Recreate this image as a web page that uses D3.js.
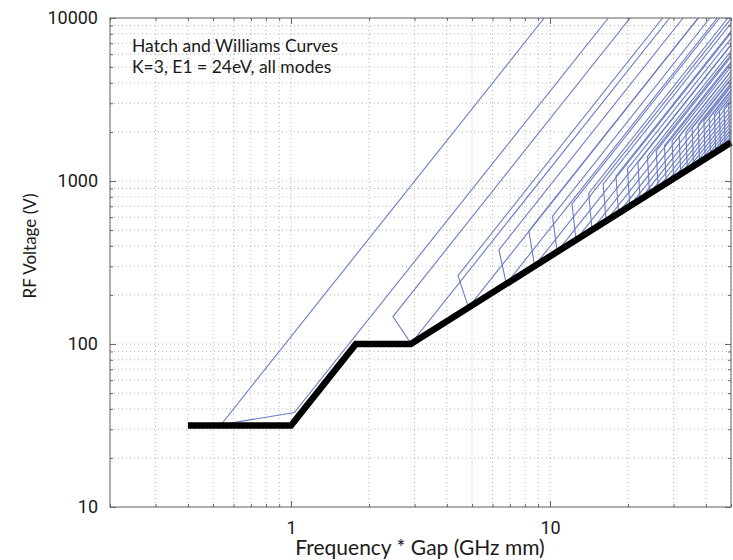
<!DOCTYPE html>
<html>
<head>
<meta charset="utf-8">
<script src="https://cdn.jsdelivr.net/npm/d3@7"></script>
<style>
  body { margin: 0; background: #fff; }
  .tick text { font-family: Roboto, "Liberation Sans", Arial, sans-serif; font-size: 18px; fill: #1a1a1a; }
  .lbl { font-family: Lato, "Open Sans", sans-serif; fill: #1a1a1a; }
</style>
</head>
<body>
<svg id="chart" width="733" height="560"></svg>
<script>
// Hatch and Williams multipactor curves, K=3, E1=24eV
// one entry per mode (n = 1..26)
const upperTopFd = [9.50, 20.39, 27.22, 32.66, 37.31, 41.45, 45.20, 48.67, 51.91, 54.95, 57.84, 60.59, 63.21,
                    65.74, 68.17, 70.52, 72.79, 74.99, 77.13, 79.21, 81.24, 83.22, 85.15, 87.04, 88.89, 90.71];
const cornerFd = [0.537, 2.475, 4.413, 6.350, 8.288, 10.226, 12.164, 14.101, 16.039, 17.977, 19.914, 21.852, 23.790,
                  25.728, 27.665, 29.603, 31.541, 33.479, 35.416, 37.354, 39.292, 41.229, 43.167, 45.105, 47.043, 48.980];
const cornerV = [32.0, 147.3, 262.7, 378.1, 493.4, 608.8, 724.1, 839.5, 954.9, 1070.2, 1185.6, 1300.9, 1416.3,
                 1531.7, 1647.0, 1762.4, 1877.7, 1993.1, 2108.4, 2223.8, 2339.2, 2454.5, 2569.9, 2685.2, 2800.6, 2916.0];
const footFd = [1.03, 2.907, 4.844, 6.782, 8.720, 10.658, 12.596, 14.533, 16.471, 18.408, 20.346, 22.284, 24.222,
                26.159, 28.097, 30.035, 31.973, 33.910, 35.848, 37.786, 39.724, 41.661, 43.599, 45.537, 47.475, 49.412];
const footV = [38.0, 100.6, 167.6, 234.6, 301.7, 368.7, 435.8, 502.8, 569.9, 636.9, 703.9, 771.0, 838.0,
               905.1, 972.1, 1039.1, 1106.2, 1173.2, 1240.3, 1307.3, 1374.4, 1441.4, 1508.4, 1575.5, 1642.5, 1709.6];
const lowerTopFd = [16.8, 28.98, 37.42, 44.27, 50.20, 55.50, 60.33, 64.81, 68.99, 72.94, 76.68, 80.25, 83.67,
                    86.95, 90.11, 93.17, 96.13, 99.00, 101.79, 104.50, 107.15, 109.73, 112.25, 114.72, 117.14, 119.50];
const topV = 10000;

// thick black threshold line
const thresholdFd = [0.4, 1, 1.78, 2.9, 50];
const thresholdV = [31.6, 31.6, 100, 100, 1725];

const xTickValues = [1, 10];
const yTickValues = [10, 100, 1000, 10000];

let svg = d3.select("#chart");
let pLeft = 110, pRight = 731, pTop = 18, pBottom = 507;

let x = d3.scaleLog().domain([0.2, 50]).range([pLeft, pRight]);
let y = d3.scaleLog().domain([10, 10000]).range([pBottom, pTop]);

svg.append("defs").append("clipPath").attr("id", "plotclip")
  .append("rect").attr("x", pLeft).attr("y", pTop).attr("width", pRight - pLeft).attr("height", pBottom - pTop);

// dotted grid on every decade step
let grid = svg.append("g").attr("stroke", "#a0a0a0").attr("stroke-width", 0.8).attr("stroke-dasharray", "1,3");
grid.selectAll(".gx").data(x.ticks()).join("line").attr("class", "gx")
  .attr("x1", d => x(d)).attr("x2", d => x(d)).attr("y1", pTop).attr("y2", pBottom);
grid.selectAll(".gy").data(y.ticks()).join("line").attr("class", "gy")
  .attr("x1", pLeft).attr("x2", pRight).attr("y1", d => y(d)).attr("y2", d => y(d));

// mode curves
let line = d3.line().x(d => x(d[0])).y(d => y(d[1]));
let modes = cornerFd.map((c, i) => [
  [upperTopFd[i], topV], [c, cornerV[i]], [footFd[i], footV[i]], [lowerTopFd[i], topV]
]);
svg.append("g").attr("clip-path", "url(#plotclip)")
  .selectAll("path").data(modes).join("path")
  .attr("d", line)
  .attr("fill", "none").attr("stroke", "#6b7cc6").attr("stroke-width", 1.1);

svg.append("path")
  .datum(thresholdFd.map((f, i) => [f, thresholdV[i]]))
  .attr("d", line)
  .attr("fill", "none").attr("stroke", "#000").attr("stroke-width", 6.5)
  .attr("stroke-linejoin", "miter");

// axes box with inward ticks
let axColor = "#666";
function styleAxis(g) {
  g.select(".domain").remove();
  g.selectAll(".tick line").attr("stroke", axColor);
}
svg.append("g").attr("transform", `translate(0,${pBottom})`)
  .call(d3.axisBottom(x).tickValues(xTickValues).tickFormat(d3.format("d")).tickSizeInner(-6).tickPadding(14))
  .call(styleAxis);
svg.append("g").attr("transform", `translate(0,${pBottom})`)
  .call(d3.axisBottom(x).tickValues(x.ticks()).tickFormat("").tickSizeInner(-3)).call(styleAxis);
svg.append("g").attr("transform", `translate(0,${pTop})`)
  .call(d3.axisTop(x).tickValues(x.ticks()).tickFormat("").tickSizeInner(-3)).call(styleAxis);
svg.append("g").attr("transform", `translate(0,${pTop})`)
  .call(d3.axisTop(x).tickValues(xTickValues).tickFormat("").tickSizeInner(-6)).call(styleAxis);

svg.append("g").attr("transform", `translate(${pLeft},0)`)
  .call(d3.axisLeft(y).tickValues(yTickValues).tickFormat(d3.format("d")).tickSizeInner(-6).tickPadding(12))
  .call(styleAxis);
svg.append("g").attr("transform", `translate(${pLeft},0)`)
  .call(d3.axisLeft(y).tickValues(y.ticks()).tickFormat("").tickSizeInner(-3)).call(styleAxis);
svg.append("g").attr("transform", `translate(${pRight},0)`)
  .call(d3.axisRight(y).tickValues(y.ticks()).tickFormat("").tickSizeInner(-3)).call(styleAxis);
svg.append("g").attr("transform", `translate(${pRight},0)`)
  .call(d3.axisRight(y).tickValues(yTickValues).tickFormat("").tickSizeInner(-6)).call(styleAxis);

svg.append("rect").attr("x", pLeft).attr("y", pTop).attr("width", pRight - pLeft).attr("height", pBottom - pTop)
  .attr("fill", "none").attr("stroke", axColor).attr("stroke-width", 1);

// labels
svg.append("text").attr("class", "lbl").attr("x", 132).attr("y", 52).attr("font-size", 17.5)
  .text("Hatch and Williams Curves");
svg.append("text").attr("class", "lbl").attr("x", 132).attr("y", 73).attr("font-size", 17.5)
  .text("K=3, E1 = 24eV, all modes");

svg.append("text").attr("class", "lbl").attr("text-anchor", "middle").attr("font-size", 17)
  .attr("transform", "translate(36,246) rotate(-90)").text("RF Voltage (V)");
svg.append("text").attr("class", "lbl").attr("text-anchor", "middle").attr("font-size", 21)
  .attr("x", 420).attr("y", 555).text("Frequency * Gap (GHz mm)");
</script>
</body>
</html>
